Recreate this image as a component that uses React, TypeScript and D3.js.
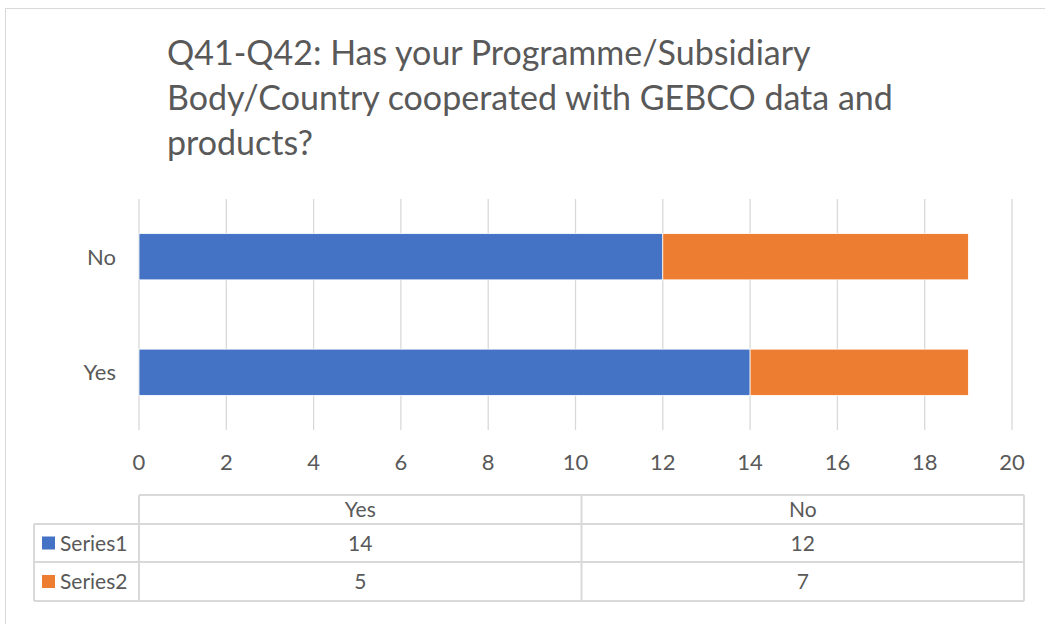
import React from 'react';
import * as d3 from 'd3';

const categories = ['Yes', 'No'];
const seriesNames = ['Series1', 'Series2'];
const series1 = [14, 12];
const series2 = [5, 7];
const seriesColors = ['#4472C4', '#ED7D31'];
const titleLines = [
  'Q41-Q42: Has your Programme/Subsidiary',
  'Body/Country cooperated with GEBCO data and',
  'products?',
];

const W = 1045;
const H = 624;
const FONT = 'Lato, "Open Sans", sans-serif';
const TEXT = '#595959';
const GRID = '#D9D9D9';

const App = () => {
  const x = d3.scaleLinear().domain([0, 20]).range([139, 1012]);
  // Excel draws the first category at the bottom
  const y = d3.scaleBand()
    .domain(categories.slice().reverse())
    .range([199, 430])
    .paddingInner(0.6)
    .paddingOuter(0.3);

  const stack = d3.stack().keys(seriesNames)(
    categories.map((c, i) => ({ cat: c, Series1: series1[i], Series2: series2[i] }))
  );

  // data table geometry
  const tLeft = 34;
  const tStart = 139;
  const tEnd = 1024;
  const rows = [495, 524, 562, 601];
  const colX = d3.scaleBand().domain(categories).range([tStart, tEnd]);
  const values = [series1, series2];

  return (
    <svg width={W} height={H} style={{ position: 'absolute', left: 0, top: 0, background: '#fff' }}>
      <rect x={5.5} y={8.5} width={W + 10} height={H + 10} fill="#fff" stroke={GRID} />

      <g fontFamily={FONT} fill={TEXT} fontSize={34}>
        {titleLines.map((t, i) => (
          <text key={i} x={167} y={65 + i * 45}>{t}</text>
        ))}
      </g>

      {x.ticks(10).map((t) => (
        <g key={t}>
          <line x1={x(t)} x2={x(t)} y1={199} y2={430} stroke={GRID} strokeWidth={1.3} />
          <text x={x(t)} y={470} textAnchor="middle" fontFamily={FONT} fontSize={22} fill={TEXT}>{t}</text>
        </g>
      ))}

      {stack.map((s, si) => (
        <g key={s.key} fill={seriesColors[si]}>
          {s.map((d, i) => (
            <rect
              key={i}
              x={x(d[0])}
              y={y(categories[i])}
              width={x(d[1]) - x(d[0])}
              height={y.bandwidth()}
              stroke="#fff"
              strokeWidth={0.75}
            />
          ))}
        </g>
      ))}

      {categories.map((c) => (
        <text key={c} x={116} y={y(c) + y.bandwidth() / 2 + 8} textAnchor="end"
          fontFamily={FONT} fontSize={22} fill={TEXT}>{c}</text>
      ))}

      <g stroke={GRID} strokeWidth={2} fill="none">
        <line x1={tStart} x2={tEnd} y1={rows[0]} y2={rows[0]} />
        <line x1={tLeft} x2={tEnd} y1={rows[1]} y2={rows[1]} />
        <line x1={tLeft} x2={tEnd} y1={rows[2]} y2={rows[2]} />
        <line x1={tLeft} x2={tEnd} y1={rows[3]} y2={rows[3]} />
        <line x1={tLeft} x2={tLeft} y1={rows[1]} y2={rows[3]} />
        <line x1={tStart} x2={tStart} y1={rows[0]} y2={rows[3]} />
        <line x1={colX('No')} x2={colX('No')} y1={rows[0]} y2={rows[3]} />
        <line x1={tEnd} x2={tEnd} y1={rows[0]} y2={rows[3]} />
      </g>

      <g fontFamily={FONT} fontSize={21} fill={TEXT}>
        {categories.map((c) => (
          <text key={c} x={colX(c) + colX.bandwidth() / 2} y={(rows[0] + rows[1]) / 2 + 7.5} textAnchor="middle">{c}</text>
        ))}
        {seriesNames.map((n, si) => {
          const cy = (rows[si + 1] + rows[si + 2]) / 2;
          return (
            <g key={n}>
              <rect x={42} y={cy - 6.5} width={13} height={13} fill={seriesColors[si]} />
              <text x={60} y={cy + 7.5}>{n}</text>
              {categories.map((c, ci) => (
                <text key={c} x={colX(c) + colX.bandwidth() / 2} y={cy + 7.5} textAnchor="middle">{values[si][ci]}</text>
              ))}
            </g>
          );
        })}
      </g>
    </svg>
  );
};

export default App;
